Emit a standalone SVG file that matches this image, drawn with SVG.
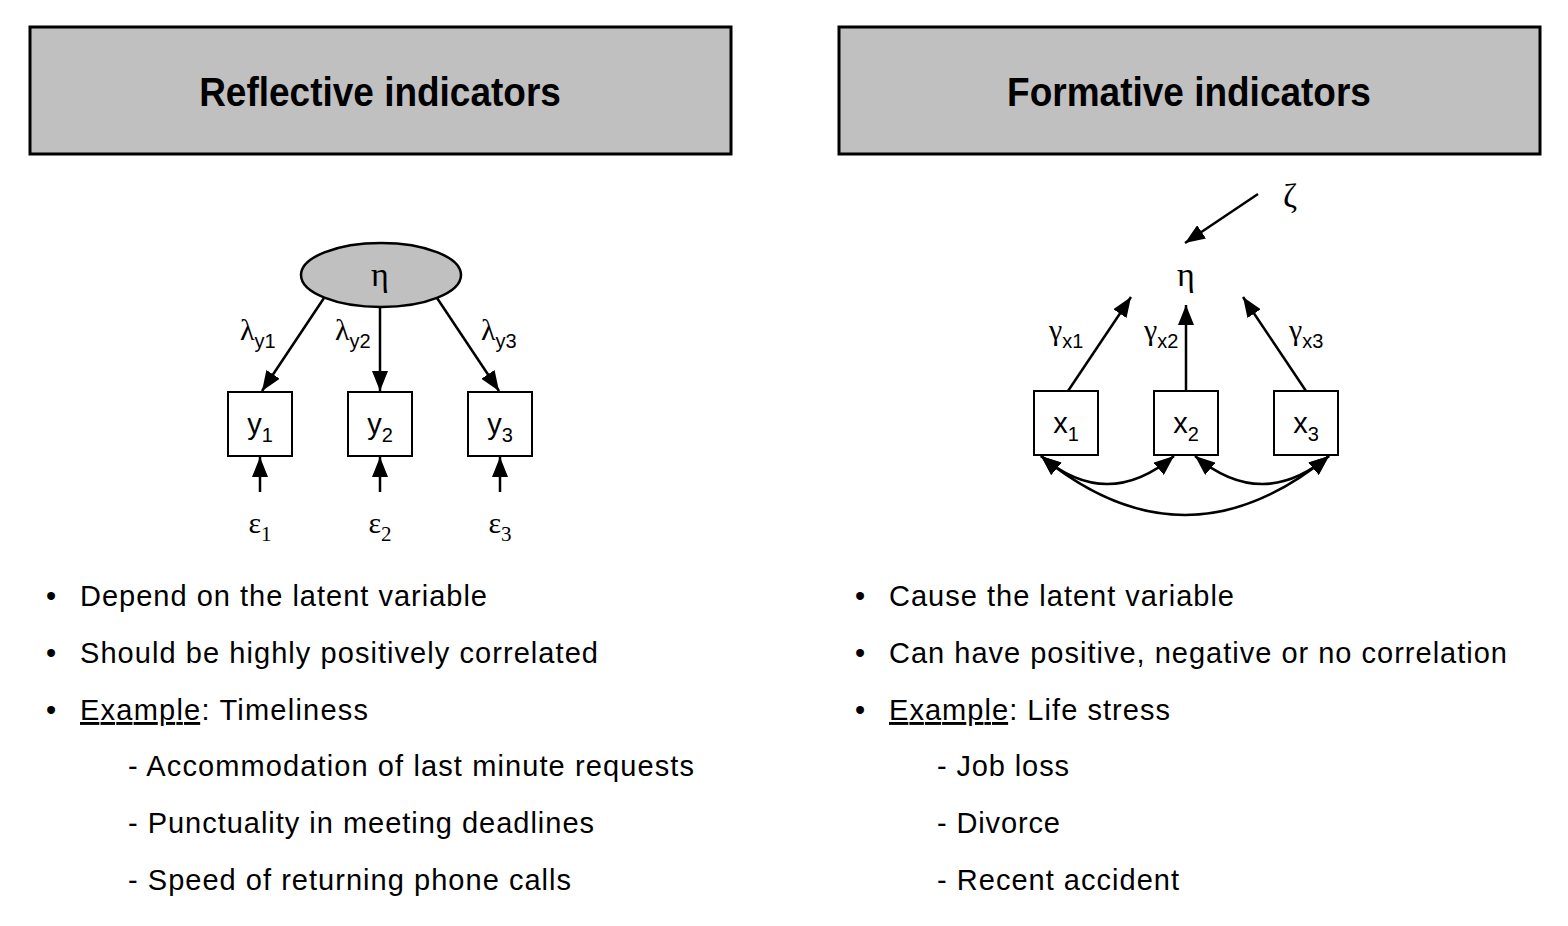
<svg xmlns="http://www.w3.org/2000/svg" width="1568" height="926" viewBox="0 0 1568 926">
<style>
.hdr{fill:#c0c0c0;stroke:#000;stroke-width:3}
.title{font-family:"Liberation Sans",Arial,sans-serif;font-weight:bold;font-size:37px;text-anchor:middle;fill:#000}
.box{fill:#fff;stroke:#000;stroke-width:2}
.lv{fill:#c0c0c0;stroke:#000;stroke-width:2.5}
.sans{font-family:"Liberation Sans",Arial,sans-serif;fill:#000}
.serif{font-family:"Liberation Serif","Times New Roman",serif;fill:#000}
.var{font-size:29px;text-anchor:middle}
.greek{font-size:30px;text-anchor:middle}
.big{font-size:34px}
.lbl{font-size:30px}
.bul{font-family:"Liberation Sans",Arial,sans-serif;font-size:29px;fill:#000}
.edge{stroke:#000;stroke-width:2.5;fill:none}
</style>
<defs>
<marker id="a" viewBox="0 0 20 16" refX="20" refY="8" markerWidth="20" markerHeight="16" markerUnits="userSpaceOnUse" orient="auto-start-reverse">
<path d="M0,0 L20,8 L0,16 Z" fill="#000"/>
</marker>
</defs>

<g id="header-reflective">
<rect class="hdr" x="30" y="27" width="701" height="127"/>
<text class="title" transform="translate(380,106) scale(1,1.12)">Reflective indicators</text>
</g>
<g id="header-formative">
<rect class="hdr" x="839" y="27" width="701" height="127"/>
<text class="title" transform="translate(1189,106) scale(1,1.12)">Formative indicators</text>
</g>

<g id="eta-reflective">
<ellipse class="lv" cx="381" cy="275" rx="80" ry="32"/>
<text class="serif greek big" x="380" y="286">η</text>
</g>
<g id="y1"><rect class="box" x="228" y="392" width="64" height="64"/><text class="sans var" x="260" y="434">y<tspan font-size="20" dy="8">1</tspan></text></g>
<g id="y2"><rect class="box" x="348" y="392" width="64" height="64"/><text class="sans var" x="380" y="434">y<tspan font-size="20" dy="8">2</tspan></text></g>
<g id="y3"><rect class="box" x="468" y="392" width="64" height="64"/><text class="sans var" x="500" y="434">y<tspan font-size="20" dy="8">3</tspan></text></g>
<g id="e1"><text class="serif greek" x="260" y="533">ε<tspan font-size="21" dy="8">1</tspan></text></g>
<g id="e2"><text class="serif greek" x="380" y="533">ε<tspan font-size="21" dy="8">2</tspan></text></g>
<g id="e3"><text class="serif greek" x="500" y="533">ε<tspan font-size="21" dy="8">3</tspan></text></g>

<g id="eta-formative"><text class="serif greek big" x="1186" y="286">η</text></g>
<g id="zeta"><text class="serif greek big" x="1290" y="207">ζ</text></g>
<g id="x1"><rect class="box" x="1034" y="391" width="64" height="64"/><text class="sans var" x="1066" y="433">x<tspan font-size="20" dy="8">1</tspan></text></g>
<g id="x2"><rect class="box" x="1154" y="391" width="64" height="64"/><text class="sans var" x="1186" y="433">x<tspan font-size="20" dy="8">2</tspan></text></g>
<g id="x3"><rect class="box" x="1274" y="391" width="64" height="64"/><text class="sans var" x="1306" y="433">x<tspan font-size="20" dy="8">3</tspan></text></g>

<g id="connectors">
<line class="edge" x1="324" y1="298" x2="262" y2="391" marker-end="url(#a)"/>
<line class="edge" x1="380" y1="307" x2="380" y2="391" marker-end="url(#a)"/>
<line class="edge" x1="437" y1="298" x2="499" y2="391" marker-end="url(#a)"/>
<line class="edge" x1="260" y1="492" x2="260" y2="457" marker-end="url(#a)"/>
<line class="edge" x1="380" y1="492" x2="380" y2="457" marker-end="url(#a)"/>
<line class="edge" x1="500" y1="492" x2="500" y2="457" marker-end="url(#a)"/>

<line class="edge" x1="1258" y1="194" x2="1185" y2="243" marker-end="url(#a)"/>
<line class="edge" x1="1068" y1="391" x2="1131" y2="297" marker-end="url(#a)"/>
<line class="edge" x1="1186" y1="391" x2="1186" y2="305" marker-end="url(#a)"/>
<line class="edge" x1="1306" y1="391" x2="1243" y2="297" marker-end="url(#a)"/>
<path class="edge" d="M1041,456 Q1107,512 1174,456" marker-start="url(#a)" marker-end="url(#a)"/>
<path class="edge" d="M1195,456 Q1262,512 1329,456" marker-start="url(#a)" marker-end="url(#a)"/>
<path class="edge" d="M1041,456 Q1185,574 1329,456" marker-start="url(#a)" marker-end="url(#a)"/>

<text class="serif lbl" x="240" y="340">λ<tspan class="sans" font-size="20" dy="8">y1</tspan></text>
<text class="serif lbl" x="335" y="340">λ<tspan class="sans" font-size="20" dy="8">y2</tspan></text>
<text class="serif lbl" x="481" y="340">λ<tspan class="sans" font-size="20" dy="8">y3</tspan></text>
<text class="serif lbl" x="1049" y="340">γ<tspan class="sans" font-size="20" dy="8">x1</tspan></text>
<text class="serif lbl" x="1144" y="340">γ<tspan class="sans" font-size="20" dy="8">x2</tspan></text>
<text class="serif lbl" x="1289" y="340">γ<tspan class="sans" font-size="20" dy="8">x3</tspan></text>
</g>

<g id="bullets-reflective" class="bul">
<text x="46" y="606">•</text><text x="80" y="606" textLength="407" lengthAdjust="spacing">Depend on the latent variable</text>
<text x="46" y="663">•</text><text x="80" y="663" textLength="518" lengthAdjust="spacing">Should be highly positively correlated</text>
<text x="46" y="720">•</text><text x="80" y="720" textLength="288" lengthAdjust="spacing"><tspan text-decoration="underline">Example</tspan>: Timeliness</text>
<text x="128" y="776" textLength="566" lengthAdjust="spacing">- Accommodation of last minute requests</text>
<text x="128" y="833" textLength="466" lengthAdjust="spacing">- Punctuality in meeting deadlines</text>
<text x="128" y="890" textLength="443" lengthAdjust="spacing">- Speed of returning phone calls</text>
</g>
<g id="bullets-formative" class="bul">
<text x="855" y="606">•</text><text x="889" y="606" textLength="345" lengthAdjust="spacing">Cause the latent variable</text>
<text x="855" y="663">•</text><text x="889" y="663" textLength="618" lengthAdjust="spacing">Can have positive, negative or no correlation</text>
<text x="855" y="720">•</text><text x="889" y="720" textLength="281" lengthAdjust="spacing"><tspan text-decoration="underline">Example</tspan>: Life stress</text>
<text x="937" y="776" textLength="132" lengthAdjust="spacing">- Job loss</text>
<text x="937" y="833" textLength="123" lengthAdjust="spacing">- Divorce</text>
<text x="937" y="890" textLength="242" lengthAdjust="spacing">- Recent accident</text>
</g>
</svg>
